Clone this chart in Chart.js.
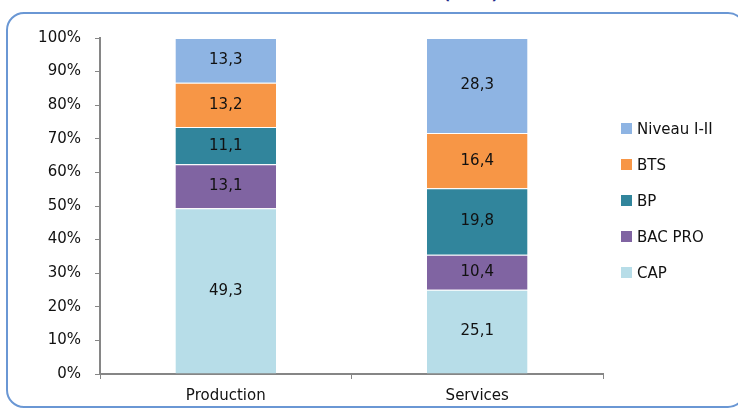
<!DOCTYPE html>
<html>
<head>
<meta charset="utf-8">
<script src="https://cdn.jsdelivr.net/npm/chart.js@4/dist/chart.umd.min.js"></script>
<style>
  body { margin: 0; background: #fff; }
  #wrap { position: relative; width: 738px; height: 412px; overflow: hidden; }
  #cadre { position: absolute; left: 6px; top: 12px; width: 740px; height: 396px;
    border: 2px solid #6a97d4; border-radius: 18px; box-sizing: border-box; }
  #titre { position: absolute; left: 420px; top: -15px; width: 102px; text-align: center;
    font: bold 15px "DejaVu Sans", sans-serif; color: #1f2a8a; }
  #legende { position: absolute; left: 621px; top: 120px; font: 15px "DejaVu Sans", sans-serif; color: #111; }
  .item { height: 36px; display: flex; align-items: flex-start; }
  .carre { width: 11px; height: 11px; margin-top: 3px; margin-right: 5px; }
  canvas { position: absolute; left: 0; top: 0; }
</style>
</head>
<body>
<div id="wrap">
  <div id="cadre"></div>
  <div id="titre">(en %)</div>
  <canvas id="graphique" width="738" height="412"></canvas>
  <div id="legende"></div>
</div>
<script>
// Données (en %)
const categories = ['Production', 'Services'];
const cap = [49.3, 25.1];
const bacPro = [13.1, 10.4];
const bp = [11.1, 19.8];
const bts = [13.2, 16.4];
const niveau = [13.3, 28.3];
const ticksY = ['0%', '10%', '20%', '30%', '40%', '50%', '60%', '70%', '80%', '90%', '100%'];

const police = '"DejaVu Sans", sans-serif';

const series = [
  { label: 'CAP', data: cap, backgroundColor: '#b7dde8' },
  { label: 'BAC PRO', data: bacPro, backgroundColor: '#8064a2' },
  { label: 'BP', data: bp, backgroundColor: '#31859c' },
  { label: 'BTS', data: bts, backgroundColor: '#f79646' },
  { label: 'Niveau I-II', data: niveau, backgroundColor: '#8eb4e3' }
];

// étiquettes des valeurs au centre de chaque segment
const etiquettes = {
  id: 'etiquettes',
  afterDatasetsDraw(chart) {
    const ctx = chart.ctx;
    ctx.save();
    ctx.font = '15px ' + police;
    ctx.fillStyle = '#111';
    ctx.textAlign = 'center';
    ctx.textBaseline = 'middle';
    chart.data.datasets.forEach((ds, i) => {
      chart.getDatasetMeta(i).data.forEach((bar, j) => {
        const milieu = (bar.y + bar.base) / 2;
        ctx.fillText(ds.data[j].toFixed(1).replace('.', ','), bar.x, milieu);
      });
    });
    ctx.restore();
  }
};

new Chart(document.getElementById('graphique'), {
  type: 'bar',
  data: {
    labels: categories,
    datasets: series.map(s => ({
      ...s,
      borderColor: 'rgba(255,255,255,0.6)',
      borderWidth: { top: 1 },
      borderSkipped: 'bottom'
    }))
  },
  options: {
    responsive: false,
    animation: false,
    events: [],
    layout: { padding: { left: 20, top: 38, right: 135, bottom: 0 } },
    datasets: { bar: { categoryPercentage: 1, barPercentage: 0.4 } },
    plugins: { legend: { display: false }, tooltip: { enabled: false } },
    scales: {
      x: {
        stacked: true,
        afterFit: s => { s.height = 38; },
        grid: { display: true, offset: true, drawOnChartArea: false, drawTicks: true, tickLength: 5, color: '#868686' },
        border: { color: '#868686', width: 2 },
        ticks: { padding: 8, color: '#111', font: { family: police, size: 15 } }
      },
      y: {
        stacked: true,
        min: 0,
        max: 100,
        afterFit: s => { s.width = 80; },
        grid: { display: true, drawOnChartArea: false, drawTicks: true, tickLength: 5, color: '#868686' },
        border: { color: '#868686', width: 2 },
        ticks: {
          stepSize: 10,
          padding: 14,
          color: '#111',
          font: { family: police, size: 15 },
          callback: (v, i) => ticksY[i]
        }
      }
    }
  },
  plugins: [etiquettes]
});

// légende (ordre inverse, comme dans l'original)
const legende = document.getElementById('legende');
series.slice().reverse().forEach(s => {
  const d = document.createElement('div');
  d.className = 'item';
  d.innerHTML = '<span class="carre" style="background:' + s.backgroundColor + '"></span>' + s.label;
  legende.appendChild(d);
});
</script>
</body>
</html>
